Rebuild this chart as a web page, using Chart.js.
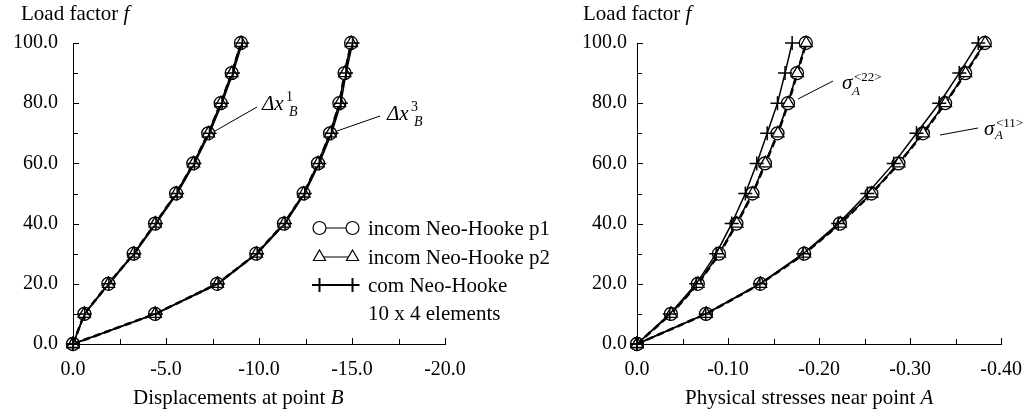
<!DOCTYPE html>
<html><head><meta charset="utf-8">
<script src="https://cdn.jsdelivr.net/npm/chart.js@4.4.0/dist/chart.umd.min.js"></script>
<style>
html,body{margin:0;padding:0;background:#fff;width:1036px;height:416px;overflow:hidden}
canvas{position:absolute;top:0}
#c1{left:0;z-index:2}#c2{left:518px;z-index:1}
</style></head>
<body>
<canvas id="c1" width="600" height="416"></canvas>
<canvas id="c2" width="518" height="416"></canvas>
<script>
// ---------- data ----------
const loadFactors = [0, 10, 20, 30, 40, 50, 60, 70, 80, 90, 100];

// Left chart: displacements at point B
const dx1_p1  = [0, -0.61, -1.90, -3.26, -4.41, -5.54, -6.47, -7.27, -7.94, -8.53, -9.03];
const dx1_p2  = [0, -0.61, -1.91, -3.27, -4.42, -5.55, -6.48, -7.28, -7.95, -8.54, -9.04];
const dx1_com = [0, -0.63, -1.93, -3.30, -4.46, -5.60, -6.53, -7.34, -8.01, -8.60, -9.10];
const dx3_p1  = [0, -4.41, -7.75, -9.85, -11.34, -12.40, -13.17, -13.82, -14.32, -14.60, -14.95];
const dx3_p2  = [0, -4.42, -7.76, -9.86, -11.35, -12.41, -13.18, -13.83, -14.33, -14.61, -14.96];
const dx3_com = [0, -4.45, -7.80, -9.90, -11.40, -12.46, -13.24, -13.90, -14.40, -14.68, -15.03];

// Right chart: physical stresses near point A
const s22_p1  = [0, -0.0372, -0.0668, -0.0900, -0.1092, -0.1268, -0.1405, -0.1543, -0.1658, -0.1757, -0.1854];
const s22_p2  = [0, -0.0374, -0.0670, -0.0905, -0.1097, -0.1272, -0.1410, -0.1548, -0.1662, -0.1761, -0.1858];
const s22_com = [0, -0.0360, -0.0650, -0.0870, -0.1040, -0.1190, -0.1315, -0.1430, -0.1543, -0.1626, -0.1704];
const s11_p1  = [0, -0.0758, -0.1354, -0.1836, -0.2229, -0.2575, -0.2872, -0.3140, -0.3384, -0.3605, -0.3820];
const s11_p2  = [0, -0.0760, -0.1357, -0.1840, -0.2233, -0.2579, -0.2876, -0.3144, -0.3388, -0.3609, -0.3824];
const s11_com = [0, -0.0755, -0.1350, -0.1825, -0.2210, -0.2530, -0.2820, -0.3070, -0.3320, -0.3540, -0.3748];

// ticks
const yTickValues = [0, 10, 20, 30, 40, 50, 60, 70, 80, 90, 100];
const yTickLabels = ['0.0', '', '20.0', '', '40.0', '', '60.0', '', '80.0', '', '100.0'];
const leftXTickValues = [0, -2.5, -5, -7.5, -10, -12.5, -15, -17.5, -20];
const leftXTickLabels = ['0.0', '', '-5.0', '', '-10.0', '', '-15.0', '', '-20.0'];
const rightXTickValues = [0, -0.05, -0.10, -0.15, -0.20, -0.25, -0.30, -0.35, -0.40];
const rightXTickLabels = ['0.0', '', '-0.10', '', '-0.20', '', '-0.30', '', '-0.40'];

const legendLabels = ['incom Neo-Hooke p1', 'incom Neo-Hooke p2', 'com Neo-Hooke', '10 x 4 elements'];

// ---------- styling ----------
const FAM = "'Liberation Serif', 'Times New Roman', serif";
const TXT = 21;
Chart.defaults.font.family = FAM;
Chart.defaults.font.size = 20;
Chart.defaults.color = '#000';

const styleP1 = {borderColor:'#000', borderWidth:1.6, pointStyle:'circle', pointRadius:6.5,
  pointBackgroundColor:'#fff', pointBorderColor:'#000', pointBorderWidth:1.3, order:3};
const styleP2 = {borderColor:'#000', borderWidth:2.6, borderDash:[7,4], pointStyle:'triangle', pointRadius:7,
  pointBackgroundColor:'#fff', pointBorderColor:'#000', pointBorderWidth:1.3, order:2};
const styleCom = {borderColor:'#000', borderWidth:1.5, pointStyle:'cross', pointRadius:7,
  pointBorderColor:'#000', pointBorderWidth:1.5, order:1};

function series(xs, style) {
  return Object.assign({data: xs.map((x, i) => ({x: x, y: loadFactors[i]})), clip:false, tension:0, fill:false}, style);
}

function setFont(ctx, size, italic) {
  ctx.font = (italic ? 'italic ' : '') + size + 'px ' + FAM;
}
function drawMixed(ctx, x, y, parts) {
  let cx = x;
  parts.forEach(p => {
    setFont(ctx, p[2] || TXT, p[1]);
    ctx.fillText(p[0], cx, y);
    cx += ctx.measureText(p[0]).width;
  });
}
function line(ctx, x1, y1, x2, y2) {
  ctx.beginPath(); ctx.moveTo(x1, y1); ctx.lineTo(x2, y2); ctx.stroke();
}

const inwardTicks = {
  id: 'inwardTicks',
  afterDraw(chart) {
    const ctx = chart.ctx, xs = chart.scales.x, ys = chart.scales.y, a = chart.chartArea;
    ctx.save();
    ctx.strokeStyle = '#000'; ctx.lineWidth = 1;
    xs.ticks.forEach(t => {
      const p = Math.round(xs.getPixelForValue(t.value)) + 0.5;
      const len = t.label ? 6 : 5;
      line(ctx, p, Math.round(a.bottom), p, Math.round(a.bottom) - len);
    });
    ys.ticks.forEach(t => {
      const p = Math.round(ys.getPixelForValue(t.value)) + 0.5;
      const len = t.label ? 6 : 5;
      line(ctx, Math.round(a.left), p, Math.round(a.left) + len, p);
    });
    ctx.restore();
  }
};

function makeScales(xMin, xTicks, xLabels, yWidth, yPad) {
  return {
    x: {
      type: 'linear', min: xMin, max: 0, reverse: true,
      afterBuildTicks: s => { s.ticks = xTicks.map(v => ({value: v})); },
      ticks: {callback: (v, i) => xLabels[i], padding: 14, maxRotation: 0, autoSkip: false, color:'#000'},
      grid: {display: false, drawTicks: false},
      border: {display: true, color: '#000', width: 1},
      afterFit: s => { s.height = 72; }
    },
    y: {
      type: 'linear', min: 0, max: 100,
      afterBuildTicks: s => { s.ticks = yTickValues.map(v => ({value: v})); },
      ticks: {callback: (v, i) => yTickLabels[i], padding: yPad, autoSkip: false, color:'#000'},
      grid: {display: false, drawTicks: false},
      border: {display: true, color: '#000', width: 1},
      afterFit: s => { s.width = yWidth; }
    }
  };
}

// ---------- left chart ----------
const leftText = {
  id: 'leftText',
  afterDraw(chart) {
    const ctx = chart.ctx;
    ctx.save();
    ctx.fillStyle = '#000'; ctx.strokeStyle = '#000'; ctx.lineWidth = 1;
    ctx.textBaseline = 'alphabetic'; ctx.textAlign = 'left';
    drawMixed(ctx, 21, 20, [['Load factor ', false], ['f', true]]);
    drawMixed(ctx, 133, 404, [['Displacements at point ', false], ['B', true]]);
    // annotations
    line(ctx, 215, 131, 257, 107);
    drawMixed(ctx, 262, 110, [['\u0394x', true]]);
    setFont(ctx, 14, false); ctx.fillText('1', 286, 101);
    setFont(ctx, 14, true); ctx.fillText('B', 289, 116);
    line(ctx, 337, 131, 380, 116);
    drawMixed(ctx, 387, 120, [['\u0394x', true]]);
    setFont(ctx, 14, false); ctx.fillText('3', 411, 111);
    setFont(ctx, 14, true); ctx.fillText('B', 414, 126);
    // legend
    const rows = [228, 257, 285, 313];
    const styles = [styleP1, styleP2, styleCom];
    styles.forEach((st, i) => {
      const y = rows[i];
      ctx.strokeStyle = '#000';
      ctx.lineWidth = i === 2 ? 2 : 1.2;
      if (i === 2) line(ctx, 312, y, 359, y); else line(ctx, 319, y, 352, y);
      [319.5, 352.5].forEach(x => {
        ctx.fillStyle = '#fff'; ctx.strokeStyle = '#000';
        Chart.helpers.drawPoint(ctx, {pointStyle: st.pointStyle, radius: st.pointRadius, borderWidth: st.pointBorderWidth, rotation: 0}, x, y);
      });
    });
    ctx.fillStyle = '#000';
    ctx.textBaseline = 'middle';
    setFont(ctx, TXT, false);
    legendLabels.forEach((t, i) => ctx.fillText(t, 368, rows[i] + 1));
    ctx.restore();
  }
};

new Chart(document.getElementById('c1'), {
  type: 'line',
  data: {
    datasets: [
      series(dx1_p1, styleP1), series(dx1_p2, styleP2), series(dx1_com, styleCom),
      series(dx3_p1, styleP1), series(dx3_p2, styleP2), series(dx3_com, styleCom)
    ]
  },
  options: {
    responsive: false, animation: false, devicePixelRatio: 1,
    layout: {padding: {top: 43, right: 155, bottom: 0, left: 0}},
    plugins: {legend: {display: false}, tooltip: {enabled: false}},
    scales: makeScales(-20, leftXTickValues, leftXTickLabels, 73, 15)
  },
  plugins: [inwardTicks, leftText]
});

// ---------- right chart ----------
const rightText = {
  id: 'rightText',
  afterDraw(chart) {
    const ctx = chart.ctx, o = 518;
    ctx.save();
    ctx.fillStyle = '#000'; ctx.strokeStyle = '#000'; ctx.lineWidth = 1;
    ctx.textBaseline = 'alphabetic'; ctx.textAlign = 'left';
    drawMixed(ctx, 583 - o, 20, [['Load factor ', false], ['f', true]]);
    drawMixed(ctx, 685 - o, 404, [['Physical stresses near point ', false], ['A', true]]);
    line(ctx, 798 - o, 99, 833 - o, 81);
    drawMixed(ctx, 842 - o, 89, [['\u03c3', true]]);
    setFont(ctx, 13, false); ctx.fillText('<22>', 854 - o, 81);
    setFont(ctx, 13, true); ctx.fillText('A', 852 - o, 95);
    line(ctx, 940 - o, 135, 978 - o, 128);
    drawMixed(ctx, 984 - o, 135, [['\u03c3', true]]);
    setFont(ctx, 13, false); ctx.fillText('<11>', 996 - o, 127);
    setFont(ctx, 13, true); ctx.fillText('A', 995 - o, 139);
    ctx.restore();
  }
};

new Chart(document.getElementById('c2'), {
  type: 'line',
  data: {
    datasets: [
      series(s22_p1, styleP1), series(s22_p2, styleP2), series(s22_com, styleCom),
      series(s11_p1, styleP1), series(s11_p2, styleP2), series(s11_com, styleCom)
    ]
  },
  options: {
    responsive: false, animation: false, devicePixelRatio: 1,
    layout: {padding: {top: 43, right: 26, bottom: 0, left: 0}},
    plugins: {legend: {display: false}, tooltip: {enabled: false}},
    scales: makeScales(-0.4, rightXTickValues, rightXTickLabels, 119, 10)
  },
  plugins: [inwardTicks, rightText]
});
</script>
</body></html>
